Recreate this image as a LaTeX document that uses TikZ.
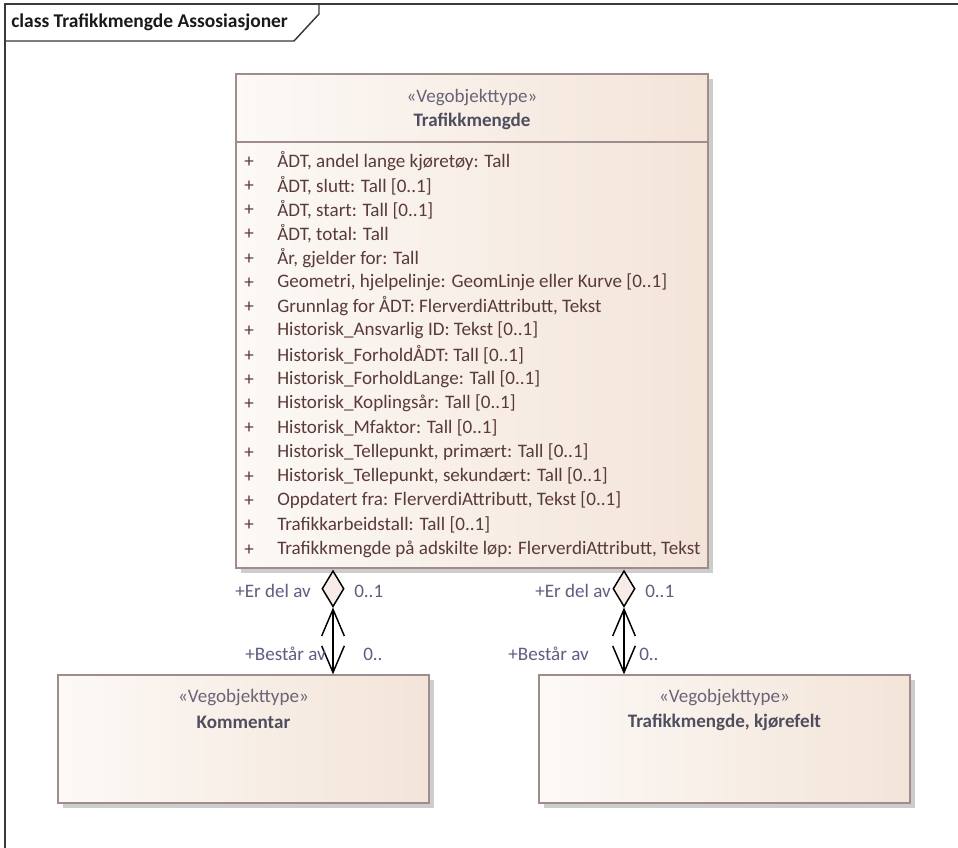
\documentclass[tikz,border=0pt]{standalone}
\usepackage{fontspec}
\setmainfont{Carlito}
\usetikzlibrary{arrows.meta,shapes.geometric,fit,calc}
\definecolor{boxline}{HTML}{A08C8C}
\definecolor{boxleft}{HTML}{FCF9F6}
\definecolor{boxright}{HTML}{F3E4D8}
\definecolor{shadowc}{HTML}{CDCDCD}
\definecolor{attrc}{HTML}{5A3A3A}
\definecolor{stereoc}{HTML}{6A6478}
\definecolor{namec}{HTML}{4E4E5E}
\definecolor{labelc}{HTML}{5E5E82}
\definecolor{framec}{HTML}{3A3A3A}
\definecolor{diamc}{HTML}{F8ECE8}
\newcommand{\txtfont}{\fontsize{14.3}{16}\selectfont}
\begin{document}
\begin{tikzpicture}[x=0.75pt,y=-0.75pt,
  classbox/.style={draw=boxline,line width=0.9pt,left color=boxleft,right color=boxright,inner sep=0pt},
  boxshadow/.style={fill=shadowc,draw=none},
  stereo/.style={font=\txtfont,text=stereoc,inner sep=0pt},
  cname/.style={font=\txtfont\bfseries,text=namec,inner sep=0pt},
  attr/.style={font=\txtfont,text=attrc,inner sep=0pt,anchor=west},
  plus/.style={font=\txtfont,text=attrc,inner sep=0pt},
  rolelabel/.style={font=\txtfont,text=labelc,inner sep=0pt},
  agg/.style={shape=diamond,draw=black,fill=diamc,line width=1.1pt,minimum width=16.5pt,minimum height=27pt,inner sep=0pt},
  assoc/.style={draw=black,line width=1.1pt,{Straight Barb[length=20pt,width=17pt]}-{Straight Barb[length=20pt,width=17pt]}},
  frameline/.style={draw=framec,line width=1.1pt}
]
\fill[white] (0,0) rectangle (958,848);
\useasboundingbox (0,0) rectangle (958,848);
% frame
\draw[frameline] (958,4) -- (5,4) -- (5,848);
\draw[frameline] (5,41) -- (294,41) -- (319,14) -- (319,4);
\node[anchor=west,font=\fontsize{14.6}{16}\selectfont\bfseries,text=black!90,inner sep=0pt] (title) at (11,22) {class Trafikkmengde Assosiasjoner};
% shadows
\fill[boxshadow] (241,79) rectangle (713,573);
\fill[boxshadow] (63,680) rectangle (434,808);
\fill[boxshadow] (544,680) rectangle (915,808);
% boxes
\node[classbox,fit={(236,74) (708,568)}] (main) {};
\node[classbox,fit={(58,675) (429,803)}] (kom) {};
\node[classbox,fit={(539,675) (910,803)}] (kjf) {};
% main header
\node[stereo] (mst) at (472,98) {«Vegobjekttype»};
\node[cname] (mnm) at (472,121) {Trafikkmengde};
\draw[draw=boxline,line width=0.9pt] (main.west |- 0,142) -- (main.east |- 0,142);
% attributes
\foreach \t [count=\i from 0] in {
  {ÅDT, andel lange kjøretøy: Tall},
  {ÅDT, slutt: Tall [0..1]},
  {ÅDT, start: Tall [0..1]},
  {ÅDT, total: Tall},
  {År, gjelder for: Tall},
  {Geometri, hjelpelinje: GeomLinje eller Kurve [0..1]},
  {Grunnlag for ÅDT: FlerverdiAttributt, Tekst},
  {Historisk\_Ansvarlig ID: Tekst [0..1]},
  {Historisk\_ForholdÅDT: Tall [0..1]},
  {Historisk\_ForholdLange: Tall [0..1]},
  {Historisk\_Koplingsår: Tall [0..1]},
  {Historisk\_Mfaktor: Tall [0..1]},
  {Historisk\_Tellepunkt, primært: Tall [0..1]},
  {Historisk\_Tellepunkt, sekundært: Tall [0..1]},
  {Oppdatert fra: FlerverdiAttributt, Tekst [0..1]},
  {Trafikkarbeidstall: Tall [0..1]},
  {Trafikkmengde på adskilte løp: FlerverdiAttributt, Tekst}}{
  \node[plus] (p\i) at (249,{162+24.25*\i}) {+};
  \node[attr] (a\i) at (277,{161+24.25*\i}) {\t};
}
% child boxes text
\node[stereo] (kst) at (243.5,698) {«Vegobjekttype»};
\node[cname] (knm) at (243.5,722) {Kommentar};
\node[stereo] (fst) at (724.5,698) {«Vegobjekttype»};
\node[cname] (fnm) at (724.5,722) {Trafikkmengde, kjørefelt};
% associations
\node[agg,anchor=north] (d1) at (333,570) {};
\node[agg,anchor=north] (d2) at (624,570) {};
\draw[assoc] (d1.south) -- (d1.south |- kom.north);
\draw[assoc] (d2.south) -- (d2.south |- kjf.north);
% role labels
\node[rolelabel,anchor=east] (r1a) at (311,591) {+Er del av};
\node[rolelabel,anchor=west] (m1a) at (354,591) {0..1};
\node[rolelabel,anchor=east] (r1b) at (326,654) {+Består av};
\node[rolelabel,anchor=west] (m1b) at (363,654) {0..};
\node[rolelabel,anchor=east] (r2a) at (611,591) {+Er del av};
\node[rolelabel,anchor=west] (m2a) at (645,591) {0..1};
\node[rolelabel,anchor=east] (r2b) at (589,654) {+Består av};
\node[rolelabel,anchor=west] (m2b) at (639,654) {0..};
\end{tikzpicture}
\end{document}
